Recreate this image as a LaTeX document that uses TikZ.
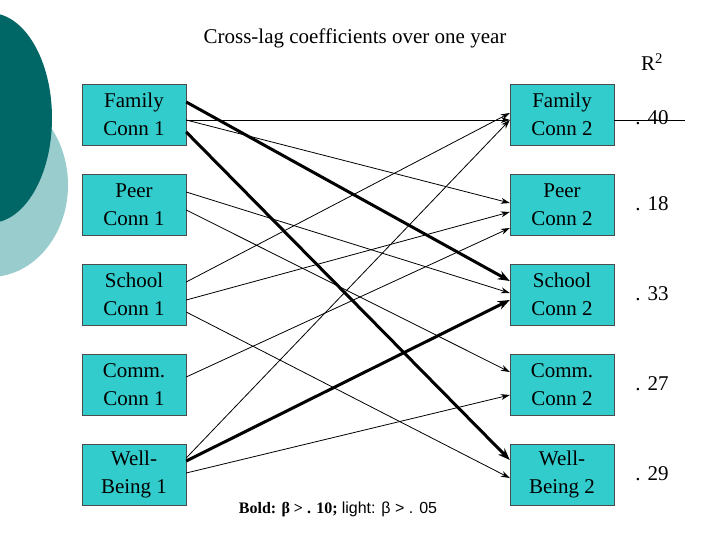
\documentclass[tikz,border=0pt]{standalone}
\usepackage{fontspec}
\setmainfont{Liberation Serif}
\newfontfamily\sans{Liberation Sans}
\usetikzlibrary{arrows.meta}
\definecolor{boxc}{HTML}{33CCCC}
\definecolor{darkt}{HTML}{006666}
\definecolor{lightt}{HTML}{99CCCC}
\begin{document}
\begin{tikzpicture}[x=1pt,y=-1pt,
  box/.style={draw=black!70,fill=boxc,minimum width=104pt,minimum height=61pt,inner sep=0pt,align=center,font=\fontsize{21}{28}\selectfont},
  lt/.style={-{Stealth[length=9pt,width=6pt]},line width=0.8pt},
  bd/.style={-{Stealth[length=12pt,width=9pt]},line width=3pt},
  val/.style={font=\fontsize{21}{24}\selectfont}]
\useasboundingbox (0,0) rectangle (720,540);
\begin{scope}
\clip (0,0) rectangle (720,540);
\fill[lightt] (-10,185) ellipse (78 and 92);
\fill[darkt] (-10,118) ellipse (62 and 105);
\end{scope}
\node[font=\fontsize{21}{24}\selectfont] (title) at (355,38) {Cross-lag coefficients over one year};
\node[font=\fontsize{21}{24}\selectfont] (r2) at (652,62) {R\textsuperscript{2}};
\node[box] (f1) at (134,114.5) {Family\\Conn 1};
\node[box] (p1) at (134,204.5) {Peer\\Conn 1};
\node[box] (s1) at (134,294.5) {School\\Conn 1};
\node[box] (c1) at (134,384.5) {Comm.\\Conn 1};
\node[box] (w1) at (134,474.5) {Well-\\Being 1};
\node[box] (f2) at (562,114.5) {Family\\Conn 2};
\node[box] (p2) at (562,204.5) {Peer\\Conn 2};
\node[box] (s2) at (562,294.5) {School\\Conn 2};
\node[box] (c2) at (562,384.5) {Comm.\\Conn 2};
\node[box] (w2) at (562,474.5) {Well-\\Being 2};
\node[val] (vf) at (652,118) {. 40};
\node[val] (vp) at (652,204) {. 18};
\node[val] (vs) at (652,294) {. 33};
\node[val] (vc) at (652,384) {. 27};
\node[val] (vw) at (652,474) {. 29};
\coordinate (ue) at (685,120);
\draw[line width=0.8pt] (f2.east |- 0,120) -- (ue);
\node[font=\fontsize{16}{18}\selectfont] (leg) at (338,509) {\textbf{Bold: β > . 10;} \sans light: β > . 05};
% Family
\draw[lt] (f1.east |- 0,120) -- (f2.west |- 0,120);
\draw[lt] (f1.east |- 0,120) -- (p2.west |- 0,203);
\draw[bd] (f1.east |- 0,102) -- (s2.west |- 0,281);
\draw[bd] (f1.east |- 0,132) -- (w2.west |- 0,460);
% Peer
\draw[lt] (p1.east |- 0,192) -- (s2.west |- 0,293);
\draw[lt] (p1.east |- 0,210) -- (c2.west |- 0,372);
% School
\draw[lt] (s1.east |- 0,282) -- (f2.west |- 0,113);
\draw[lt] (s1.east |- 0,300) -- (p2.west |- 0,212);
\draw[lt] (s1.east |- 0,312) -- (w2.west |- 0,478);
% Comm
\draw[lt] (c1.east |- 0,377) -- (p2.west |- 0,228);
% Well-being
\draw[lt] (w1.east |- 0,458) -- (f2.west |- 0,120);
\draw[bd] (w1.east |- 0,461) -- (s2.west |- 0,300);
\draw[lt] (w1.east |- 0,473) -- (c2.west |- 0,395);
\end{tikzpicture}
\end{document}
